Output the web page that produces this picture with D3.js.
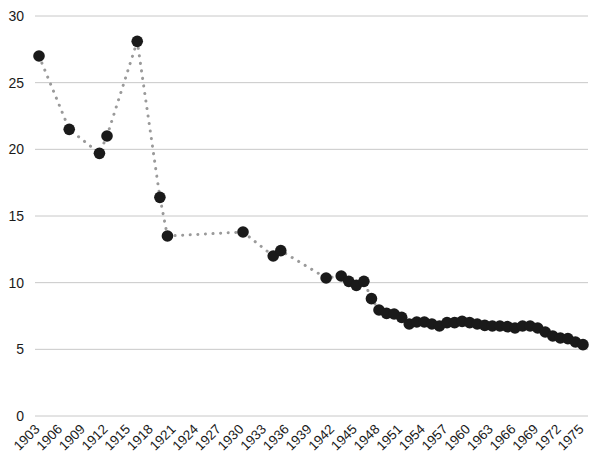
<!DOCTYPE html>
<html><head><meta charset="utf-8">
<script src="https://cdn.jsdelivr.net/npm/d3@7"></script>
<style>body{margin:0;background:#fff}svg{display:block}text{font-family:"Liberation Sans",Arial,sans-serif;fill:#1a1a1a}</style>
</head><body><svg id="c" width="600" height="462"></svg>
<script>
const years = [1903,1907,1911,1912,1916,1919,1920,1930,1934,1935,1941,1943,1944,1945,1946,1947,1948,1949,1950,1951,1952,1953,1954,1955,1956,1957,1958,1959,1960,1961,1962,1963,1964,1965,1966,1967,1968,1969,1970,1971,1972,1973,1974,1975];
const values = [27.0,21.5,19.7,21.0,28.1,16.4,13.5,13.8,12.0,12.4,10.35,10.5,10.1,9.8,10.1,8.8,7.95,7.7,7.65,7.4,6.9,7.05,7.05,6.9,6.75,7.0,7.0,7.1,7.0,6.9,6.8,6.75,6.75,6.7,6.6,6.75,6.75,6.6,6.3,6.0,5.85,5.8,5.55,5.35];
const yTicks = [0,5,10,15,20,25,30];
const xTicks = d3.range(1903,1976,3);

const svg = d3.select("#c");
const x = d3.scaleLinear().domain([1903,1975]).range([39,583]);
const y = d3.scaleLinear().domain([0,30]).range([416,16]);

const g = svg.append("g");
g.selectAll("line.grid").data(yTicks).join("line")
  .attr("x1",35).attr("x2",588).attr("y1",d=>y(d)).attr("y2",d=>y(d))
  .attr("stroke","#c8c8c8").attr("stroke-width",1);
g.selectAll("text.yl").data(yTicks).join("text")
  .attr("x",24).attr("y",d=>y(d)).attr("dy","0.36em").attr("text-anchor","end")
  .attr("font-size",14).text(d=>d);

const xa = svg.append("g").attr("transform","translate(0,416)")
  .call(d3.axisBottom(x).tickValues(xTicks).tickFormat(d3.format("d")).tickSize(0).tickPadding(0));
xa.select(".domain").remove();
xa.selectAll("text").attr("font-size",13.5).attr("text-anchor","end")
  .attr("x",0).attr("y",0).attr("dy",0)
  .attr("transform","translate(1,14) rotate(-45)").attr("fill","#1a1a1a");

const data = years.map((d,i)=>({year:d,v:values[i]}));
svg.append("path").datum(data)
  .attr("d",d3.line().x(d=>x(d.year)).y(d=>y(d.v)))
  .attr("fill","none").attr("stroke","#9a9a9a").attr("stroke-width",3)
  .attr("stroke-linecap","round").attr("stroke-dasharray","0.1 7.5");
svg.selectAll("circle").data(data).join("circle")
  .attr("cx",d=>x(d.year)).attr("cy",d=>y(d.v)).attr("r",5.8).attr("fill","#1a1a1a");
</script></body></html>
